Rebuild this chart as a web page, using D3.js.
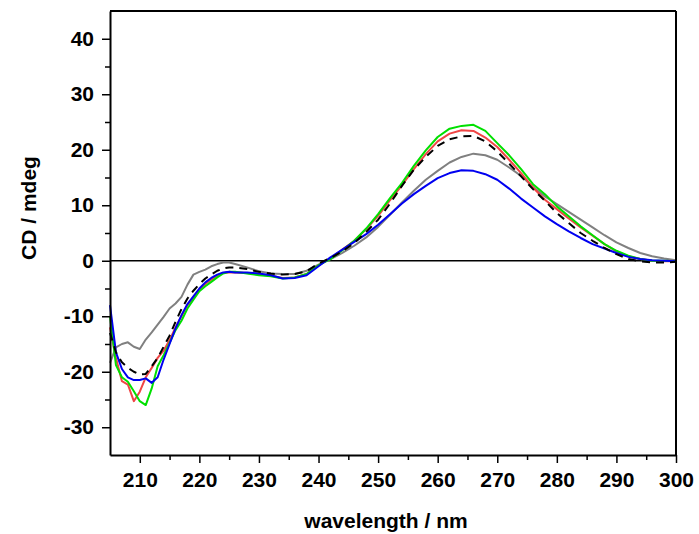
<!DOCTYPE html>
<html>
<head>
<meta charset="utf-8">
<script src="https://cdn.jsdelivr.net/npm/d3@7"></script>
<style>
  body { margin: 0; background: #fff; }
  text { font-family: "Liberation Sans", Arial, sans-serif; font-weight: bold; }
</style>
</head>
<body>
<div id="chart"></div>
<script>
// wavelengths (nm): 1 nm steps 205-226, then 2 nm steps to 300
var wavelengths = [205,206,207,208,209,210,211,212,213,214,215,216,217,218,219,220,221,222,223,224,225,226,
  228,230,232,234,236,238,240,242,244,246,248,250,252,254,256,258,260,262,264,266,268,270,272,274,276,278,280,
  282,284,286,288,290,292,294,296,298,300];

var greySeries = [-18.4,-15.6,-15,-14.7,-15.5,-15.9,-14.2,-12.9,-11.5,-10.1,-8.6,-7.7,-6.5,-4.3,-2.5,-2.0,-1.6,-1.0,-0.6,-0.3,-0.3,-0.6,
  -1.2,-1.9,-2.3,-2.4,-2.4,-1.8,-0.7,0.3,1.4,2.7,4.2,6.1,8.3,10.5,12.6,14.6,16.2,17.7,18.7,19.3,19.0,18.2,16.8,15.3,13.3,11.6,10.2,
  8.8,7.4,6.0,4.6,3.3,2.3,1.4,0.8,0.4,0.1];

var redSeries = [-12,-17.5,-21.7,-22.3,-25.3,-23.6,-21,-19.3,-17.5,-16.2,-14.3,-12,-10,-8,-6.6,-5.2,-4.2,-3.4,-2.7,-2.2,-2.1,-2.1,
  -2.2,-2.5,-2.7,-3.1,-3.0,-2.4,-0.8,0.4,2.0,3.6,5.7,8.1,10.9,13.6,16.5,19.2,21.5,22.9,23.5,23.4,22.2,20.5,18.2,15.8,13.2,11.0,9.3,
  7.6,6.0,4.5,3.0,1.7,0.8,0.3,0,-0.1,-0.1];

var greenSeries = [-10,-18.8,-21,-21.8,-23.5,-25.3,-26,-23,-19,-17,-14.8,-12.5,-10.8,-8.6,-7.0,-5.5,-4.6,-3.8,-3.0,-2.3,-2.0,-2.0,
  -2.3,-2.6,-2.8,-3.2,-3.0,-2.4,-0.8,0.3,1.9,3.6,5.8,8.4,11.3,14.0,17.1,19.9,22.3,23.8,24.3,24.5,23.4,21.2,19.0,16.5,13.8,12.0,9.8,
  8.0,6.2,4.6,3.0,1.8,0.9,0.3,0,0,-0.1];

var blueSeries = [-8,-16.5,-19.5,-21,-21.5,-21.5,-21.2,-22,-21,-17.8,-15,-12.2,-9.8,-7.8,-6.4,-5,-3.9,-3.1,-2.5,-2.1,-2.0,-2.1,
  -2.1,-2.3,-2.6,-3.2,-3.1,-2.6,-1.0,0.6,2.0,3.4,4.8,6.5,8.4,10.3,12.0,13.5,14.9,15.8,16.3,16.2,15.6,14.6,13.0,11.2,9.6,8.0,6.6,
  5.3,4.1,3.0,2.2,1.4,0.7,0.3,0.1,0,-0.1];

var dashedSeries = [-13,-16.5,-18.3,-19.3,-20,-20.5,-20.4,-19,-17.5,-15.5,-13.5,-11,-8.7,-6.8,-5.4,-4.2,-3.2,-2.5,-1.8,-1.4,-1.2,-1.2,
  -1.5,-2.0,-2.3,-2.5,-2.4,-1.9,-0.5,0.5,1.7,3.2,5.2,7.4,10.3,13.5,16.4,18.7,20.7,21.9,22.4,22.5,21.5,19.7,17.5,15.2,12.9,10.8,8.6,
  6.8,5.0,3.6,2.3,1.2,0.3,-0.1,-0.3,-0.3,-0.2];

var xTicks = [210,220,230,240,250,260,270,280,290,300];
var yTicks = [-30,-20,-10,0,10,20,30,40];

// svg size and plot box
var svgWidth = 699;
var svgHeight = 534;
var margin = { top: 11, right: 23, bottom: 79, left: 110 };
var width = svgWidth - margin.left - margin.right;
var height = svgHeight - margin.top - margin.bottom;

var svg = d3.select("#chart").append("svg")
    .attr("width", svgWidth)
    .attr("height", svgHeight);

var chartGroup = svg.append("g")
    .attr("transform", `translate(${margin.left}, ${margin.top})`);

var x = d3.scaleLinear().domain([205, 300]).range([0, width]);
var y = d3.scaleLinear().domain([-35, 45]).range([height, 0]);

// zero line
chartGroup.append("line")
    .attr("x1", 0).attr("x2", width)
    .attr("y1", y(0)).attr("y2", y(0))
    .attr("stroke", "#000").attr("stroke-width", 1.5);

// series lines
var line = d3.line()
    .x((d, i) => x(wavelengths[i]))
    .y(d => y(d));

var series = [
  { values: greySeries, color: "#808080", dash: null },
  { values: redSeries, color: "#f04545", dash: null },
  { values: greenSeries, color: "#00e000", dash: null },
  { values: blueSeries, color: "#0000f0", dash: null },
  { values: dashedSeries, color: "#000000", dash: "8,6" }
];

series.forEach(function(s) {
  chartGroup.append("path")
      .datum(s.values)
      .attr("fill", "none")
      .attr("stroke", s.color)
      .attr("stroke-width", 2)
      .attr("stroke-linejoin", "round")
      .attr("stroke-dasharray", s.dash)
      .attr("d", line);
});

// minor ticks
var xMinor = d3.range(215, 300, 10);
var yMinor = d3.range(-35, 45, 10).filter(v => v > -35);

chartGroup.append("g")
    .attr("transform", `translate(0, ${height})`)
    .call(d3.axisBottom(x).tickValues(xMinor).tickSize(5).tickFormat(""))
    .call(g => g.select(".domain").remove())
    .selectAll("line").attr("stroke-width", 1.5);

chartGroup.append("g")
    .call(d3.axisLeft(y).tickValues(yMinor).tickSize(5).tickFormat(""))
    .call(g => g.select(".domain").remove())
    .selectAll("line").attr("stroke-width", 1.5);

// major axes (plain hyphen for negatives)
var plain = d => String(d);

var xAxis = chartGroup.append("g")
    .attr("transform", `translate(0, ${height})`)
    .call(d3.axisBottom(x).tickValues(xTicks).tickFormat(plain).tickSize(8).tickSizeOuter(0).tickPadding(9));

var yAxis = chartGroup.append("g")
    .call(d3.axisLeft(y).tickValues(yTicks).tickFormat(plain).tickSize(8).tickSizeOuter(0).tickPadding(8));

[xAxis, yAxis].forEach(function(a) {
  a.selectAll("line").attr("stroke-width", 1.5);
  a.select(".domain").attr("stroke-width", 2);
  a.selectAll("text").attr("font-size", "21px").attr("font-weight", "bold").attr("fill", "#000")
      .attr("font-family", "Liberation Sans, Arial, sans-serif");
});

// top and right frame lines
chartGroup.append("line")
    .attr("x1", 0).attr("x2", width).attr("y1", 0).attr("y2", 0)
    .attr("stroke", "#000").attr("stroke-width", 2);
chartGroup.append("line")
    .attr("x1", width).attr("x2", width).attr("y1", 0).attr("y2", height)
    .attr("stroke", "#000").attr("stroke-width", 2);

// axis titles
svg.append("text")
    .attr("x", 386)
    .attr("y", 528)
    .attr("text-anchor", "middle")
    .attr("font-size", "21px")
    .text("wavelength / nm");

svg.append("text")
    .attr("transform", "translate(36, 208) rotate(-90)")
    .attr("text-anchor", "middle")
    .attr("font-size", "21px")
    .text("CD / mdeg");
</script>
</body>
</html>
